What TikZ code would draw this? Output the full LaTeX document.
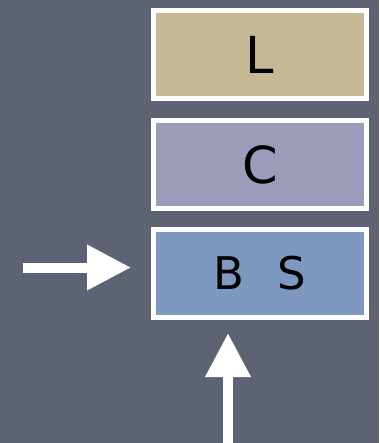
\documentclass[tikz,border=0pt]{standalone}
\usepackage{fontspec}
\setmainfont{DejaVu Sans}
\usetikzlibrary{arrows.meta}
\definecolor{bgslate}{HTML}{5E6373}
\definecolor{layerL}{HTML}{C6B894}
\definecolor{layerC}{HTML}{9C9BBA}
\definecolor{layerB}{HTML}{7E98C0}
\begin{document}
\begin{tikzpicture}[x=1pt,y=-1pt,
  layer/.style={draw=white, line width=5pt, minimum width=213pt,
    minimum height=88pt, inner sep=0pt, outer sep=0pt,
    font=\fontsize{51}{51}\selectfont},
  bigarrow/.style={draw=white, line width=10pt,
    -{Triangle[length=44pt,width=43pt]}}]
  % backdrop
  \fill[bgslate] (0,0) rectangle (379,443);
  \useasboundingbox (0,0) rectangle (379,443);
  % stacked layers
  \node[layer, fill=layerL] (l) at (260,54.5) {L};
  \node[layer, fill=layerC] (c) at (260,164.5) {C};
  \node[layer, fill=layerB, font=\fontsize{45}{45}\selectfont] (bs) at (260,273.5)
    {B\hspace{33pt}S};
  % inputs into the bottom layer
  \coordinate (inL) at (23,267.5);
  \coordinate (inB) at (228,446);
  \draw[bigarrow, shorten >=22.5pt] (inL) -- (inL -| bs.west);
  \draw[bigarrow, shorten >=15.5pt] (inB) -- (inB |- bs.south);
\end{tikzpicture}
\end{document}
